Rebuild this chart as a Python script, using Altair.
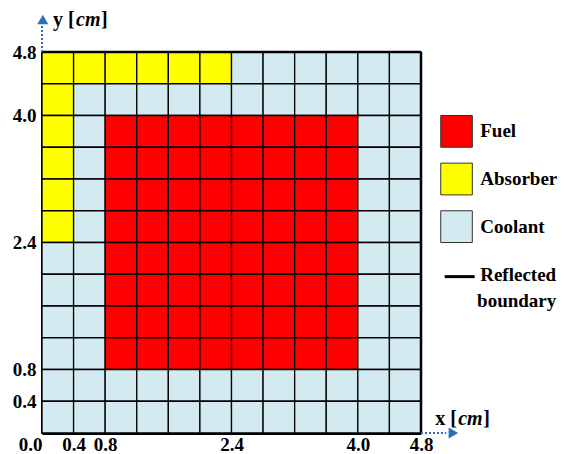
import altair as alt
import pandas as pd

# ---- data ----
CELL = 0.4
LAYOUT = [  # top row first; A=Absorber, C=Coolant, F=Fuel
    "AAAAAACCCCCC",
    "ACCCCCCCCCCC",
    "ACFFFFFFFFCC",
    "ACFFFFFFFFCC",
    "ACFFFFFFFFCC",
    "ACFFFFFFFFCC",
    "CCFFFFFFFFCC",
    "CCFFFFFFFFCC",
    "CCFFFFFFFFCC",
    "CCFFFFFFFFCC",
    "CCCCCCCCCCCC",
    "CCCCCCCCCCCC",
]
MATERIALS = {"F": "Fuel", "A": "Absorber", "C": "Coolant"}
LEGEND_LABELS = ["Fuel", "Absorber", "Coolant"]
LEGEND_COLORS = ["#FF0000", "#FFFF00", "#D2EAF0"]
X_TICKS = [0.0, 0.4, 0.8, 2.4, 4.0, 4.8]
Y_TICKS = [0.4, 0.8, 2.4, 4.0, 4.8]
DOMAIN = [0, 4.8]

FONT = "Liberation Serif"
BLUE = "#2E6EB8"

n = len(LAYOUT)
cells = []
for r, row in enumerate(LAYOUT):
    for c, ch in enumerate(row):
        y0 = (n - 1 - r) * CELL
        cells.append({"x": c * CELL, "x2": (c + 1) * CELL, "y": y0, "y2": y0 + CELL,
                      "mat": MATERIALS[ch]})
cells = pd.DataFrame(cells)

xs = alt.Scale(domain=DOMAIN, nice=False, zero=False)
ys = alt.Scale(domain=DOMAIN, nice=False, zero=False)
color_scale = alt.Scale(domain=LEGEND_LABELS, range=LEGEND_COLORS)

x_axis = alt.Axis(values=X_TICKS, format=".1f", ticks=False, grid=False, title=None,
                  labelFont=FONT, labelFontWeight="bold", labelFontSize=19, labelColor="black",
                  labelPadding=2, labelFlush=False, labelOverlap=False,
                  labelAlign={"condition": {"test": "datum.value == 0", "value": "right"}, "value": "center"},
                  domainColor="black", domainWidth=3)
y_axis = alt.Axis(values=Y_TICKS, format=".1f", ticks=False, grid=False, title=None,
                  labelFont=FONT, labelFontWeight="bold", labelFontSize=19, labelColor="black",
                  labelPadding=6, labelFlush=False, labelOverlap=False,
                  domainColor="black", domainWidth=3)


def X(f):
    return alt.X(f, scale=xs, axis=x_axis)


def Y(f):
    return alt.Y(f, scale=ys, axis=y_axis)


grid = alt.Chart(cells).mark_rect(stroke="black", strokeWidth=1.3).encode(
    x=X("x:Q"), x2="x2:Q", y=Y("y:Q"), y2="y2:Q",
    color=alt.Color("mat:N", scale=color_scale, legend=None),
)

# top & right border
border = pd.DataFrame([
    {"x": 0, "x2": 4.8, "y": 4.8, "y2": 4.8},
    {"x": 4.8, "x2": 4.8, "y": 0, "y2": 4.8},
])
border_rules = alt.Chart(border).mark_rule(color="black", strokeWidth=2.5).encode(
    x=X("x:Q"), x2="x2:Q", y=Y("y:Q"), y2="y2:Q",
)

# axis arrows
arrows = pd.DataFrame([
    {"x": 0, "x2": 0, "y": 4.8, "y2": 5.14},
    {"x": 4.8, "x2": 5.12, "y": 0, "y2": 0},
])
arrow_lines = alt.Chart(arrows).mark_rule(color=BLUE, strokeWidth=2, strokeDash=[2, 2]).encode(
    x=X("x:Q"), x2="x2:Q", y=Y("y:Q"), y2="y2:Q",
)
heads = pd.DataFrame([
    {"x": 0.01, "y": 5.21, "shape": "triangle-up"},
    {"x": 5.21, "y": 0.0, "shape": "triangle-right"},
])
arrow_heads = alt.Chart(heads).mark_point(filled=True, opacity=1, color=BLUE, size=120).encode(
    x=X("x:Q"), y=Y("y:Q"),
    shape=alt.Shape("shape:N", scale=None, legend=None),
)


# axis titles with italic unit
def title_parts(x, y, letter):
    pos = pd.DataFrame([{"x": x, "y": y}])
    specs = [(letter + " [", 0, "normal"), ("cm", 23, "italic"), ("]", 48, "normal")]
    layers = []
    for txt, dx, style in specs:
        layers.append(
            alt.Chart(pos).mark_text(
                text=txt, dx=dx, font=FONT, fontWeight="bold", fontSize=20, fontStyle=style,
                align="left", baseline="middle", color="black",
            ).encode(x=X("x:Q"), y=Y("y:Q"))
        )
    return layers


y_title = title_parts(0.14, 5.2, "y")
x_title = title_parts(4.98, 0.18, "x")

# legend
leg = pd.DataFrame({
    "label": LEGEND_LABELS,
    "x": [5.05] * 3,
    "x2": [5.45] * 3,
    "y": [4.0 - i * 0.6 for i in range(3)],
})
leg["y2"] = leg["y"] - 0.4
leg["ty"] = leg["y"] - 0.2
leg["tx"] = 5.55

leg_boxes = alt.Chart(leg).mark_rect(stroke="#333333", strokeWidth=1).encode(
    x=X("x:Q"), x2="x2:Q", y=Y("y:Q"), y2="y2:Q",
    color=alt.Color("label:N", scale=color_scale, legend=None),
)
leg_text = alt.Chart(leg).mark_text(
    font=FONT, fontWeight="bold", fontSize=19, align="left", baseline="middle", color="black"
).encode(x=X("tx:Q"), y=Y("ty:Q"), text="label:N")

refl_line = alt.Chart(pd.DataFrame([{"x": 5.1, "x2": 5.48, "y": 1.97}])).mark_rule(
    color="black", strokeWidth=3
).encode(x=X("x:Q"), x2="x2:Q", y=Y("y:Q"))

refl_text = alt.Chart(pd.DataFrame([
    {"x": 5.55, "y": 1.99, "t": "Reflected"},
    {"x": 5.51, "y": 1.66, "t": "boundary"},
])).mark_text(
    font=FONT, fontWeight="bold", fontSize=19, align="left", baseline="middle", color="black"
).encode(x=X("x:Q"), y=Y("y:Q"), text="t:N")

chart = alt.layer(
    grid, border_rules, arrow_lines, arrow_heads, *y_title, *x_title,
    leg_boxes, leg_text, refl_line, refl_text,
).properties(
    width=379, height=381,
    autosize=alt.AutoSizeParams(type="none"),
    padding={"left": 34, "top": 44, "right": 137, "bottom": 20},
).configure_view(stroke=None)

chart.save("out.html", embed_options={"renderer": "svg", "actions": False})
